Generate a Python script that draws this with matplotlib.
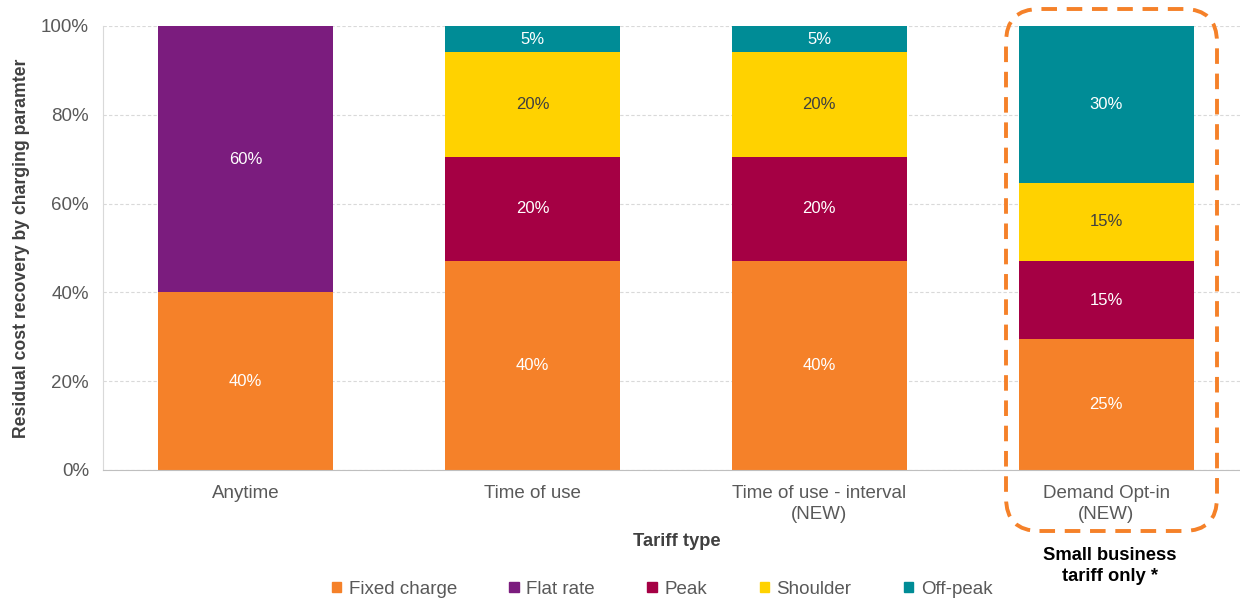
import matplotlib.pyplot as plt
from matplotlib.patches import FancyBboxPatch, Patch
import numpy as np

plt.rcParams['font.family'] = ['Liberation Sans', 'DejaVu Sans']

tariffs = ['Anytime', 'Time of use', 'Time of use - interval\n(NEW)', 'Demand Opt-in\n(NEW)']
series = ['Fixed charge', 'Flat rate', 'Peak', 'Shoulder', 'Off-peak']
fixed = [40, 40, 40, 25]
flat = [60, 0, 0, 0]
peak = [0, 20, 20, 15]
shoulder = [0, 20, 20, 15]
offpeak = [0, 5, 5, 30]
colours = ['#F58129', '#7B1C7E', '#A50044', '#FFD200', '#008C96']
text_colours = ['white', 'white', 'white', '#404040', 'white']

values = np.array([fixed, flat, peak, shoulder, offpeak], dtype=float)
shares = values / values.sum(axis=0) * 100

fig = plt.figure(figsize=(12.4, 6.01), dpi=100)
ax = fig.add_axes([103 / 1240, 1 - 470 / 601, 1 - 103 / 1240, 444 / 601])

x = np.arange(len(tariffs))
bottom = np.zeros(len(tariffs))
for i in range(len(series)):
    ax.bar(x, shares[i], 0.61, bottom=bottom, color=colours[i], zorder=2)
    for j in range(len(tariffs)):
        if values[i, j] > 0:
            ax.text(x[j], bottom[j] + shares[i, j] / 2, '%d%%' % values[i, j],
                    ha='center', va='center', fontsize=12, color=text_colours[i], zorder=3)
    bottom += shares[i]

ax.set_xlim(-0.498, 3.467)
ax.set_ylim(0, 100)
ax.set_yticks(range(0, 101, 20))
ax.set_yticklabels(['%d%%' % v for v in range(0, 101, 20)])
ax.set_xticks(x)
ax.set_xticklabels(tariffs, linespacing=1.25)
ax.tick_params(axis='both', length=0, labelsize=13.5, labelcolor='#595959')
ax.tick_params(axis='x', pad=11)
ax.tick_params(axis='y', pad=10)
ax.grid(axis='y', color='#D9D9D9', linestyle=(0, (3, 2)), linewidth=0.8, zorder=0)
for s in ['top', 'right']:
    ax.spines[s].set_visible(False)
ax.spines['left'].set_color('#D9D9D9')
ax.spines['bottom'].set_color('#BFBFBF')

ax.set_ylabel('Residual cost recovery by charging paramter', fontsize=12.7,
              fontweight='bold', color='#404040', labelpad=8)
fig.text(677 / 1240, 1 - 541 / 601, 'Tariff type', ha='center', va='center',
         fontsize=13.2, fontweight='bold', color='#404040')
fig.text(1110 / 1240, 1 - 566 / 601, 'Small business\ntariff only *', ha='center',
         va='center', fontsize=13.2, fontweight='bold', color='black', linespacing=1.25)

box = FancyBboxPatch((1006 / 1240, 1 - 531 / 601), 211 / 1240, 522 / 601,
                     boxstyle='round,pad=0,rounding_size=0.027', transform=fig.transFigure,
                     fill=False, edgecolor='#F58129', linewidth=2.8,
                     linestyle=(0, (4, 2.5)), clip_on=False, mutation_aspect=2.06)
fig.patches.append(box)

handles = [Patch(color=c, label=s) for c, s in zip(colours, series)]
fig.legend(handles=handles, loc='center', bbox_to_anchor=(0.534, 1 - 589 / 601), ncol=5,
           frameon=False, fontsize=13.5, handlelength=0.5, handleheight=0.5,
           handletextpad=0.4, columnspacing=2.8, labelcolor='#595959',
           borderpad=0.1)

fig.savefig('out.png', dpi=100)
